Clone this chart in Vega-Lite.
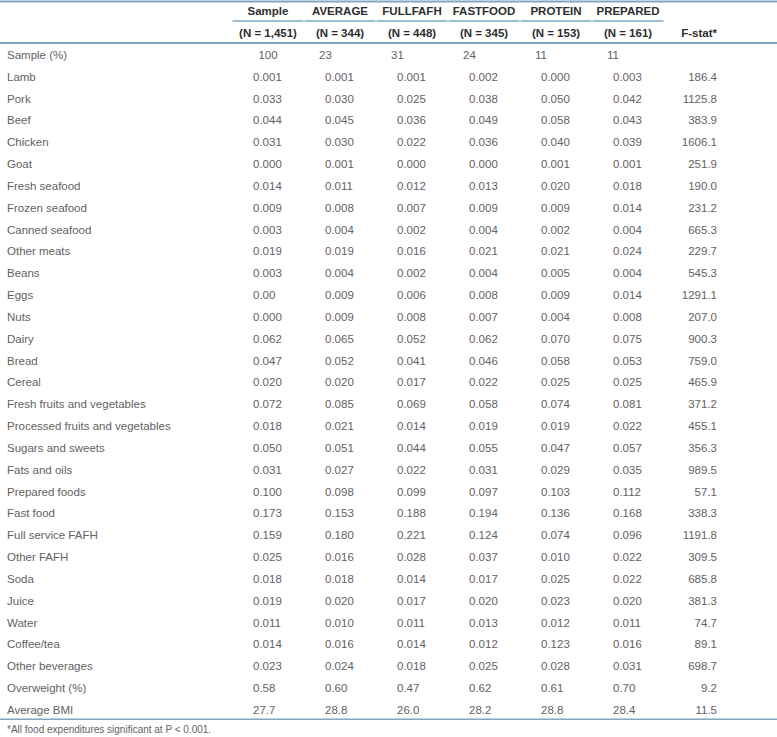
{
  "$schema": "https://vega.github.io/schema/vega-lite/v6.json",
  "width": 777,
  "height": 737,
  "autosize": "none",
  "padding": 0,
  "background": "white",
  "config": {"view": {"stroke": null}, "text": {"font": "Liberation Sans", "fontSize": 11.5, "color": "#626262", "baseline": "middle"}},
  "datasets": {
    "rows": [
      {"item": "Sample (%)", "Sample": "100", "AVERAGE": "23", "FULLFAFH": "31", "FASTFOOD": "24", "PROTEIN": "11", "PREPARED": "11", "F-stat": ""},
      {"item": "Lamb", "Sample": "0.001", "AVERAGE": "0.001", "FULLFAFH": "0.001", "FASTFOOD": "0.002", "PROTEIN": "0.000", "PREPARED": "0.003", "F-stat": "186.4"},
      {"item": "Pork", "Sample": "0.033", "AVERAGE": "0.030", "FULLFAFH": "0.025", "FASTFOOD": "0.038", "PROTEIN": "0.050", "PREPARED": "0.042", "F-stat": "1125.8"},
      {"item": "Beef", "Sample": "0.044", "AVERAGE": "0.045", "FULLFAFH": "0.036", "FASTFOOD": "0.049", "PROTEIN": "0.058", "PREPARED": "0.043", "F-stat": "383.9"},
      {"item": "Chicken", "Sample": "0.031", "AVERAGE": "0.030", "FULLFAFH": "0.022", "FASTFOOD": "0.036", "PROTEIN": "0.040", "PREPARED": "0.039", "F-stat": "1606.1"},
      {"item": "Goat", "Sample": "0.000", "AVERAGE": "0.001", "FULLFAFH": "0.000", "FASTFOOD": "0.000", "PROTEIN": "0.001", "PREPARED": "0.001", "F-stat": "251.9"},
      {"item": "Fresh seafood", "Sample": "0.014", "AVERAGE": "0.011", "FULLFAFH": "0.012", "FASTFOOD": "0.013", "PROTEIN": "0.020", "PREPARED": "0.018", "F-stat": "190.0"},
      {"item": "Frozen seafood", "Sample": "0.009", "AVERAGE": "0.008", "FULLFAFH": "0.007", "FASTFOOD": "0.009", "PROTEIN": "0.009", "PREPARED": "0.014", "F-stat": "231.2"},
      {"item": "Canned seafood", "Sample": "0.003", "AVERAGE": "0.004", "FULLFAFH": "0.002", "FASTFOOD": "0.004", "PROTEIN": "0.002", "PREPARED": "0.004", "F-stat": "665.3"},
      {"item": "Other meats", "Sample": "0.019", "AVERAGE": "0.019", "FULLFAFH": "0.016", "FASTFOOD": "0.021", "PROTEIN": "0.021", "PREPARED": "0.024", "F-stat": "229.7"},
      {"item": "Beans", "Sample": "0.003", "AVERAGE": "0.004", "FULLFAFH": "0.002", "FASTFOOD": "0.004", "PROTEIN": "0.005", "PREPARED": "0.004", "F-stat": "545.3"},
      {"item": "Eggs", "Sample": "0.00", "AVERAGE": "0.009", "FULLFAFH": "0.006", "FASTFOOD": "0.008", "PROTEIN": "0.009", "PREPARED": "0.014", "F-stat": "1291.1"},
      {"item": "Nuts", "Sample": "0.000", "AVERAGE": "0.009", "FULLFAFH": "0.008", "FASTFOOD": "0.007", "PROTEIN": "0.004", "PREPARED": "0.008", "F-stat": "207.0"},
      {"item": "Dairy", "Sample": "0.062", "AVERAGE": "0.065", "FULLFAFH": "0.052", "FASTFOOD": "0.062", "PROTEIN": "0.070", "PREPARED": "0.075", "F-stat": "900.3"},
      {"item": "Bread", "Sample": "0.047", "AVERAGE": "0.052", "FULLFAFH": "0.041", "FASTFOOD": "0.046", "PROTEIN": "0.058", "PREPARED": "0.053", "F-stat": "759.0"},
      {"item": "Cereal", "Sample": "0.020", "AVERAGE": "0.020", "FULLFAFH": "0.017", "FASTFOOD": "0.022", "PROTEIN": "0.025", "PREPARED": "0.025", "F-stat": "465.9"},
      {"item": "Fresh fruits and vegetables", "Sample": "0.072", "AVERAGE": "0.085", "FULLFAFH": "0.069", "FASTFOOD": "0.058", "PROTEIN": "0.074", "PREPARED": "0.081", "F-stat": "371.2"},
      {"item": "Processed fruits and vegetables", "Sample": "0.018", "AVERAGE": "0.021", "FULLFAFH": "0.014", "FASTFOOD": "0.019", "PROTEIN": "0.019", "PREPARED": "0.022", "F-stat": "455.1"},
      {"item": "Sugars and sweets", "Sample": "0.050", "AVERAGE": "0.051", "FULLFAFH": "0.044", "FASTFOOD": "0.055", "PROTEIN": "0.047", "PREPARED": "0.057", "F-stat": "356.3"},
      {"item": "Fats and oils", "Sample": "0.031", "AVERAGE": "0.027", "FULLFAFH": "0.022", "FASTFOOD": "0.031", "PROTEIN": "0.029", "PREPARED": "0.035", "F-stat": "989.5"},
      {"item": "Prepared foods", "Sample": "0.100", "AVERAGE": "0.098", "FULLFAFH": "0.099", "FASTFOOD": "0.097", "PROTEIN": "0.103", "PREPARED": "0.112", "F-stat": "57.1"},
      {"item": "Fast food", "Sample": "0.173", "AVERAGE": "0.153", "FULLFAFH": "0.188", "FASTFOOD": "0.194", "PROTEIN": "0.136", "PREPARED": "0.168", "F-stat": "338.3"},
      {"item": "Full service FAFH", "Sample": "0.159", "AVERAGE": "0.180", "FULLFAFH": "0.221", "FASTFOOD": "0.124", "PROTEIN": "0.074", "PREPARED": "0.096", "F-stat": "1191.8"},
      {"item": "Other FAFH", "Sample": "0.025", "AVERAGE": "0.016", "FULLFAFH": "0.028", "FASTFOOD": "0.037", "PROTEIN": "0.010", "PREPARED": "0.022", "F-stat": "309.5"},
      {"item": "Soda", "Sample": "0.018", "AVERAGE": "0.018", "FULLFAFH": "0.014", "FASTFOOD": "0.017", "PROTEIN": "0.025", "PREPARED": "0.022", "F-stat": "685.8"},
      {"item": "Juice", "Sample": "0.019", "AVERAGE": "0.020", "FULLFAFH": "0.017", "FASTFOOD": "0.020", "PROTEIN": "0.023", "PREPARED": "0.020", "F-stat": "381.3"},
      {"item": "Water", "Sample": "0.011", "AVERAGE": "0.010", "FULLFAFH": "0.011", "FASTFOOD": "0.013", "PROTEIN": "0.012", "PREPARED": "0.011", "F-stat": "74.7"},
      {"item": "Coffee/tea", "Sample": "0.014", "AVERAGE": "0.016", "FULLFAFH": "0.014", "FASTFOOD": "0.012", "PROTEIN": "0.123", "PREPARED": "0.016", "F-stat": "89.1"},
      {"item": "Other beverages", "Sample": "0.023", "AVERAGE": "0.024", "FULLFAFH": "0.018", "FASTFOOD": "0.025", "PROTEIN": "0.028", "PREPARED": "0.031", "F-stat": "698.7"},
      {"item": "Overweight (%)", "Sample": "0.58", "AVERAGE": "0.60", "FULLFAFH": "0.47", "FASTFOOD": "0.62", "PROTEIN": "0.61", "PREPARED": "0.70", "F-stat": "9.2"},
      {"item": "Average BMI", "Sample": "27.7", "AVERAGE": "28.8", "FULLFAFH": "26.0", "FASTFOOD": "28.2", "PROTEIN": "28.8", "PREPARED": "28.4", "F-stat": "11.5"}
    ],
    "heads": [
      {"col": "Sample", "r": "h1", "t": "Sample"},
      {"col": "AVERAGE", "r": "h1", "t": "AVERAGE"},
      {"col": "FULLFAFH", "r": "h1", "t": "FULLFAFH"},
      {"col": "FASTFOOD", "r": "h1", "t": "FASTFOOD"},
      {"col": "PROTEIN", "r": "h1", "t": "PROTEIN"},
      {"col": "PREPARED", "r": "h1", "t": "PREPARED"},
      {"col": "Sample", "r": "h2", "t": "(N = 1,451)"},
      {"col": "AVERAGE", "r": "h2", "t": "(N = 344)"},
      {"col": "FULLFAFH", "r": "h2", "t": "(N = 448)"},
      {"col": "FASTFOOD", "r": "h2", "t": "(N = 345)"},
      {"col": "PROTEIN", "r": "h2", "t": "(N = 153)"},
      {"col": "PREPARED", "r": "h2", "t": "(N = 161)"},
      {"col": "F-stat", "r": "h2", "t": "F-stat*"}
    ],
    "rules": [
      {"r": "h1", "w": "top"},
      {"r": "h2", "w": "head"},
      {"r": "Average BMI", "w": "bottom"}
    ],
    "notes": [
      {"r": "foot", "t": "*All food expenditures significant at P < 0.001."}
    ]
  },
  "resolve": {"scale": {"x": "independent"}},
  "layer": [
    {
      "data": {"name": "rules"},
      "transform": [{"filter": "datum.w == 'top'"}],
      "mark": {"type": "rule", "color": "#7fa8c0", "strokeWidth": 2},
      "encoding": {
        "y": {"field": "r", "type": "nominal", "bandPosition": 0, "axis": null,
          "scale": {"type": "band", "paddingInner": 0, "paddingOuter": 0, "range": [1.4, 743.6],
            "domain": ["h1","h2","Sample (%)","Lamb","Pork","Beef","Chicken","Goat","Fresh seafood","Frozen seafood","Canned seafood","Other meats","Beans","Eggs","Nuts","Dairy","Bread","Cereal","Fresh fruits and vegetables","Processed fruits and vegetables","Sugars and sweets","Fats and oils","Prepared foods","Fast food","Full service FAFH","Other FAFH","Soda","Juice","Water","Coffee/tea","Other beverages","Overweight (%)","Average BMI","foot"]}}
      }
    },
    {
      "data": {"name": "rules"},
      "transform": [{"filter": "datum.w == 'head'"}],
      "mark": {"type": "rule", "color": "#7fa8c0", "strokeWidth": 2},
      "encoding": {
        "y": {"field": "r", "type": "nominal", "bandPosition": 0.9, "axis": null,
          "scale": {"type": "band", "paddingInner": 0, "paddingOuter": 0, "range": [1.4, 743.6],
            "domain": ["h1","h2","Sample (%)","Lamb","Pork","Beef","Chicken","Goat","Fresh seafood","Frozen seafood","Canned seafood","Other meats","Beans","Eggs","Nuts","Dairy","Bread","Cereal","Fresh fruits and vegetables","Processed fruits and vegetables","Sugars and sweets","Fats and oils","Prepared foods","Fast food","Full service FAFH","Other FAFH","Soda","Juice","Water","Coffee/tea","Other beverages","Overweight (%)","Average BMI","foot"]}}
      }
    },
    {
      "data": {"name": "rules"},
      "transform": [{"filter": "datum.w == 'bottom'"}],
      "mark": {"type": "rule", "color": "#7fa8c0", "strokeWidth": 1.5},
      "encoding": {
        "y": {"field": "r", "type": "nominal", "bandPosition": 0.88, "axis": null,
          "scale": {"type": "band", "paddingInner": 0, "paddingOuter": 0, "range": [1.4, 743.6],
            "domain": ["h1","h2","Sample (%)","Lamb","Pork","Beef","Chicken","Goat","Fresh seafood","Frozen seafood","Canned seafood","Other meats","Beans","Eggs","Nuts","Dairy","Bread","Cereal","Fresh fruits and vegetables","Processed fruits and vegetables","Sugars and sweets","Fats and oils","Prepared foods","Fast food","Full service FAFH","Other FAFH","Soda","Juice","Water","Coffee/tea","Other beverages","Overweight (%)","Average BMI","foot"]}}
      }
    },
    {
      "data": {"name": "heads"},
      "transform": [{"filter": "datum.r == 'h1'"}],
      "mark": {"type": "tick", "orient": "horizontal", "size": 71, "thickness": 1.5, "color": "#7fa8c0", "opacity": 1},
      "encoding": {
        "x": {"field": "col", "type": "nominal", "axis": null,
          "scale": {"type": "point", "domain": ["Sample","AVERAGE","FULLFAFH","FASTFOOD","PROTEIN","PREPARED","F-stat"], "range": [232, 736]}},
        "y": {"field": "r", "type": "nominal", "bandPosition": 0.9, "axis": null,
          "scale": {"type": "band", "paddingInner": 0, "paddingOuter": 0, "range": [1.4, 743.6],
            "domain": ["h1","h2","Sample (%)","Lamb","Pork","Beef","Chicken","Goat","Fresh seafood","Frozen seafood","Canned seafood","Other meats","Beans","Eggs","Nuts","Dairy","Bread","Cereal","Fresh fruits and vegetables","Processed fruits and vegetables","Sugars and sweets","Fats and oils","Prepared foods","Fast food","Full service FAFH","Other FAFH","Soda","Juice","Water","Coffee/tea","Other beverages","Overweight (%)","Average BMI","foot"]}}
      }
    },
    {
      "data": {"name": "heads"},
      "transform": [{"filter": "datum.col != 'F-stat'"}],
      "mark": {"type": "text", "align": "center", "fontWeight": "bold", "color": "#2e2e2e"},
      "encoding": {
        "x": {"field": "col", "type": "nominal", "axis": null,
          "scale": {"type": "point", "domain": ["Sample","AVERAGE","FULLFAFH","FASTFOOD","PROTEIN","PREPARED","F-stat"], "range": [232, 736]}},
        "y": {"field": "r", "type": "nominal", "axis": null,
          "scale": {"type": "band", "paddingInner": 0, "paddingOuter": 0, "range": [1.4, 743.6],
            "domain": ["h1","h2","Sample (%)","Lamb","Pork","Beef","Chicken","Goat","Fresh seafood","Frozen seafood","Canned seafood","Other meats","Beans","Eggs","Nuts","Dairy","Bread","Cereal","Fresh fruits and vegetables","Processed fruits and vegetables","Sugars and sweets","Fats and oils","Prepared foods","Fast food","Full service FAFH","Other FAFH","Soda","Juice","Water","Coffee/tea","Other beverages","Overweight (%)","Average BMI","foot"]}},
        "text": {"field": "t", "type": "nominal"}
      }
    },
    {
      "data": {"name": "heads"},
      "transform": [{"filter": "datum.col == 'F-stat'"}],
      "mark": {"type": "text", "align": "right", "dx": 17, "fontWeight": "bold", "color": "#2e2e2e"},
      "encoding": {
        "x": {"field": "col", "type": "nominal", "axis": null,
          "scale": {"type": "point", "domain": ["Sample","AVERAGE","FULLFAFH","FASTFOOD","PROTEIN","PREPARED","F-stat"], "range": [232, 736]}},
        "y": {"field": "r", "type": "nominal", "axis": null,
          "scale": {"type": "band", "paddingInner": 0, "paddingOuter": 0, "range": [1.4, 743.6],
            "domain": ["h1","h2","Sample (%)","Lamb","Pork","Beef","Chicken","Goat","Fresh seafood","Frozen seafood","Canned seafood","Other meats","Beans","Eggs","Nuts","Dairy","Bread","Cereal","Fresh fruits and vegetables","Processed fruits and vegetables","Sugars and sweets","Fats and oils","Prepared foods","Fast food","Full service FAFH","Other FAFH","Soda","Juice","Water","Coffee/tea","Other beverages","Overweight (%)","Average BMI","foot"]}},
        "text": {"field": "t", "type": "nominal"}
      }
    },
    {
      "data": {"name": "rows"},
      "mark": {"type": "text", "align": "left", "dx": 7},
      "encoding": {
        "x": {"datum": 0, "type": "quantitative", "axis": null, "scale": {"domain": [0, 1]}},
        "y": {"field": "item", "type": "nominal", "axis": null,
          "scale": {"type": "band", "paddingInner": 0, "paddingOuter": 0, "range": [1.4, 743.6],
            "domain": ["h1","h2","Sample (%)","Lamb","Pork","Beef","Chicken","Goat","Fresh seafood","Frozen seafood","Canned seafood","Other meats","Beans","Eggs","Nuts","Dairy","Bread","Cereal","Fresh fruits and vegetables","Processed fruits and vegetables","Sugars and sweets","Fats and oils","Prepared foods","Fast food","Full service FAFH","Other FAFH","Soda","Juice","Water","Coffee/tea","Other beverages","Overweight (%)","Average BMI","foot"]}},
        "text": {"field": "item", "type": "nominal"}
      }
    },
    {
      "data": {"name": "rows"},
      "transform": [
        {"fold": ["Sample","AVERAGE","FULLFAFH","FASTFOOD","PROTEIN","PREPARED"], "as": ["col", "val"]},
        {"filter": "datum.item != 'Sample (%)'"}
      ],
      "mark": {"type": "text", "align": "left", "dx": -15},
      "encoding": {
        "x": {"field": "col", "type": "nominal", "axis": null,
          "scale": {"type": "point", "domain": ["Sample","AVERAGE","FULLFAFH","FASTFOOD","PROTEIN","PREPARED","F-stat"], "range": [232, 736]}},
        "y": {"field": "item", "type": "nominal", "axis": null,
          "scale": {"type": "band", "paddingInner": 0, "paddingOuter": 0, "range": [1.4, 743.6],
            "domain": ["h1","h2","Sample (%)","Lamb","Pork","Beef","Chicken","Goat","Fresh seafood","Frozen seafood","Canned seafood","Other meats","Beans","Eggs","Nuts","Dairy","Bread","Cereal","Fresh fruits and vegetables","Processed fruits and vegetables","Sugars and sweets","Fats and oils","Prepared foods","Fast food","Full service FAFH","Other FAFH","Soda","Juice","Water","Coffee/tea","Other beverages","Overweight (%)","Average BMI","foot"]}},
        "text": {"field": "val", "type": "nominal"}
      }
    },
    {
      "data": {"name": "rows"},
      "transform": [
        {"fold": ["AVERAGE","FULLFAFH","FASTFOOD","PROTEIN","PREPARED"], "as": ["col", "val"]},
        {"filter": "datum.item == 'Sample (%)'"}
      ],
      "mark": {"type": "text", "align": "left", "dx": -21},
      "encoding": {
        "x": {"field": "col", "type": "nominal", "axis": null,
          "scale": {"type": "point", "domain": ["Sample","AVERAGE","FULLFAFH","FASTFOOD","PROTEIN","PREPARED","F-stat"], "range": [232, 736]}},
        "y": {"field": "item", "type": "nominal", "axis": null,
          "scale": {"type": "band", "paddingInner": 0, "paddingOuter": 0, "range": [1.4, 743.6],
            "domain": ["h1","h2","Sample (%)","Lamb","Pork","Beef","Chicken","Goat","Fresh seafood","Frozen seafood","Canned seafood","Other meats","Beans","Eggs","Nuts","Dairy","Bread","Cereal","Fresh fruits and vegetables","Processed fruits and vegetables","Sugars and sweets","Fats and oils","Prepared foods","Fast food","Full service FAFH","Other FAFH","Soda","Juice","Water","Coffee/tea","Other beverages","Overweight (%)","Average BMI","foot"]}},
        "text": {"field": "val", "type": "nominal"}
      }
    },
    {
      "data": {"name": "rows"},
      "transform": [
        {"fold": ["Sample"], "as": ["col", "val"]},
        {"filter": "datum.item == 'Sample (%)'"}
      ],
      "mark": {"type": "text", "align": "center"},
      "encoding": {
        "x": {"field": "col", "type": "nominal", "axis": null,
          "scale": {"type": "point", "domain": ["Sample","AVERAGE","FULLFAFH","FASTFOOD","PROTEIN","PREPARED","F-stat"], "range": [232, 736]}},
        "y": {"field": "item", "type": "nominal", "axis": null,
          "scale": {"type": "band", "paddingInner": 0, "paddingOuter": 0, "range": [1.4, 743.6],
            "domain": ["h1","h2","Sample (%)","Lamb","Pork","Beef","Chicken","Goat","Fresh seafood","Frozen seafood","Canned seafood","Other meats","Beans","Eggs","Nuts","Dairy","Bread","Cereal","Fresh fruits and vegetables","Processed fruits and vegetables","Sugars and sweets","Fats and oils","Prepared foods","Fast food","Full service FAFH","Other FAFH","Soda","Juice","Water","Coffee/tea","Other beverages","Overweight (%)","Average BMI","foot"]}},
        "text": {"field": "val", "type": "nominal"}
      }
    },
    {
      "data": {"name": "rows"},
      "transform": [
        {"fold": ["F-stat"], "as": ["col", "val"]},
        {"filter": "datum.val != ''"}
      ],
      "mark": {"type": "text", "align": "right", "dx": 17},
      "encoding": {
        "x": {"field": "col", "type": "nominal", "axis": null,
          "scale": {"type": "point", "domain": ["Sample","AVERAGE","FULLFAFH","FASTFOOD","PROTEIN","PREPARED","F-stat"], "range": [232, 736]}},
        "y": {"field": "item", "type": "nominal", "axis": null,
          "scale": {"type": "band", "paddingInner": 0, "paddingOuter": 0, "range": [1.4, 743.6],
            "domain": ["h1","h2","Sample (%)","Lamb","Pork","Beef","Chicken","Goat","Fresh seafood","Frozen seafood","Canned seafood","Other meats","Beans","Eggs","Nuts","Dairy","Bread","Cereal","Fresh fruits and vegetables","Processed fruits and vegetables","Sugars and sweets","Fats and oils","Prepared foods","Fast food","Full service FAFH","Other FAFH","Soda","Juice","Water","Coffee/tea","Other beverages","Overweight (%)","Average BMI","foot"]}},
        "text": {"field": "val", "type": "nominal"}
      }
    },
    {
      "data": {"name": "notes"},
      "mark": {"type": "text", "align": "left", "dx": 7, "dy": -3, "fontSize": 10},
      "encoding": {
        "x": {"datum": 0, "type": "quantitative", "axis": null, "scale": {"domain": [0, 1]}},
        "y": {"field": "r", "type": "nominal", "axis": null,
          "scale": {"type": "band", "paddingInner": 0, "paddingOuter": 0, "range": [1.4, 743.6],
            "domain": ["h1","h2","Sample (%)","Lamb","Pork","Beef","Chicken","Goat","Fresh seafood","Frozen seafood","Canned seafood","Other meats","Beans","Eggs","Nuts","Dairy","Bread","Cereal","Fresh fruits and vegetables","Processed fruits and vegetables","Sugars and sweets","Fats and oils","Prepared foods","Fast food","Full service FAFH","Other FAFH","Soda","Juice","Water","Coffee/tea","Other beverages","Overweight (%)","Average BMI","foot"]}},
        "text": {"field": "t", "type": "nominal"}
      }
    }
  ]
}
